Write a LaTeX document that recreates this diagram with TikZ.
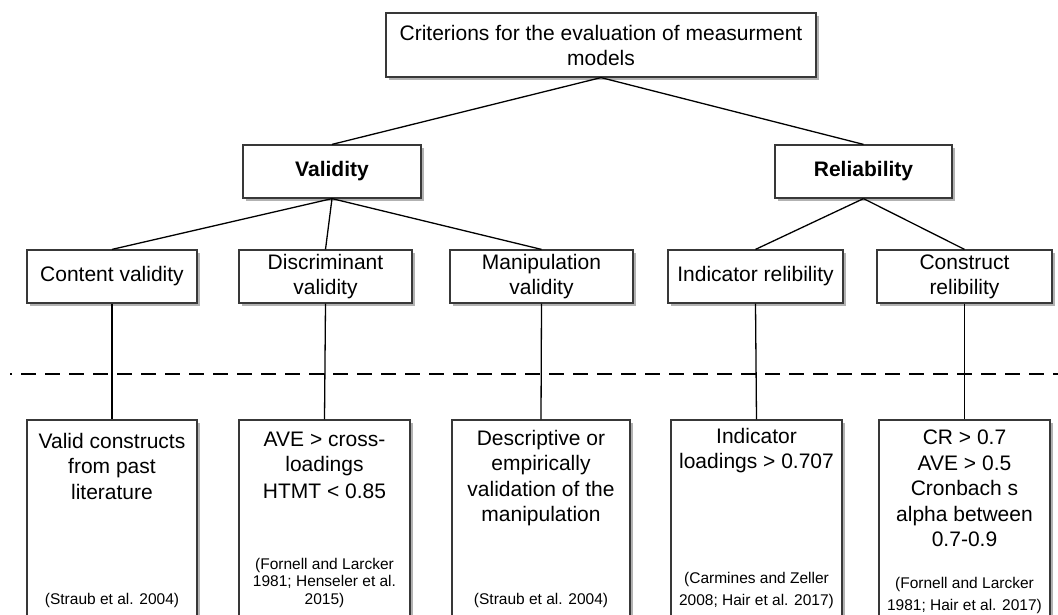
\documentclass[tikz,border=0pt]{standalone}
\usepackage{fontspec}
\setmainfont{Liberation Sans}
\usetikzlibrary{shadows}
\begin{document}
\begin{tikzpicture}[x=1pt,y=-1pt,
  box/.style={draw=black!78, line width=1.2pt, fill=white, inner sep=0pt, align=center,
    drop shadow={shadow xshift=2.5pt, shadow yshift=-2.5pt, opacity=0.3, fill=black}},
  link/.style={draw=black, line width=1.3pt},
  main/.style={font=\fontsize{21}{25}\selectfont},
  strong/.style={font=\fontsize{21}{25}\selectfont\bfseries},
  body/.style={font=\fontsize{21}{25.5}\selectfont, align=center, inner sep=0pt, anchor=north},
  cite/.style={font=\fontsize{15.5}{17.4}\selectfont, align=center, inner sep=0pt, anchor=north}]

\useasboundingbox[fill=white] (0,0) rectangle (1058,614);

% ends of the dashed separator
\coordinate (dashL) at (10,374);
\coordinate (dashR) at (1058,374);

% root
\node[box, main, minimum width=430pt, minimum height=64pt] (root) at (601,45)
  {Criterions for the evaluation of measurment\\models};

% first level
\node[box, strong, minimum width=178pt, minimum height=53pt] (val) at (332,171.5) {Validity};
\node[box, strong, minimum width=177pt, minimum height=53pt] (rel) at (863.5,171.5) {Reliability};

% second level
\node[box, main, minimum width=170pt, minimum height=53pt] (cv) at (112,276.5) {Content validity};
\node[box, main, minimum width=173pt, minimum height=53pt] (dv) at (325.5,276.5) {Discriminant\\validity};
\node[box, main, minimum width=183pt, minimum height=53pt] (mv) at (541.5,276.5) {Manipulation\\validity};
\node[box, main, minimum width=175pt, minimum height=53pt] (ir) at (755.5,276.5) {Indicator relibility};
\node[box, main, minimum width=175pt, minimum height=53pt] (cr) at (964.5,276.5) {Construct\\relibility};

% criteria boxes (run past the lower edge)
\node[box, minimum width=170pt, minimum height=230pt] (bv) at (112,535) {};
\node[box, minimum width=171pt, minimum height=230pt] (bd) at (324.5,535) {};
\node[box, minimum width=178pt, minimum height=230pt] (bm) at (541,535) {};
\node[box, minimum width=171pt, minimum height=230pt] (bi) at (756.5,535) {};
\node[box, minimum width=171pt, minimum height=230pt] (bc) at (964.5,535) {};

% tree links
\draw[link] (root.south) -- (val.north);
\draw[link] (root.south) -- (rel.north);
\draw[link] (val.south) -- (cv.north);
\draw[link] (val.south) -- (dv.north);
\draw[link] (val.south) -- (mv.north);
\draw[link] (rel.south) -- (ir.north);
\draw[link] (rel.south) -- (cr.north);
\draw[link] (cv.south) -- (bv.north);
\draw[link] (dv.south) -- (bd.north);
\draw[link] (mv.south) -- (bm.north);
\draw[link] (ir.south) -- (bi.north);
\draw[link] (cr.south) -- (bc.north);

% separator
\draw[black, line width=1.5pt, dash pattern=on 15pt off 9pt, dash phase=13pt] (dashL) -- (dashR);

% criteria texts
\node[body] (tv) at (112,432.7) {Valid constructs\\from past\\literature};
\node[body] (td) at (324.5,431.4) {AVE > cross-\\loadings\\[1.5pt]HTMT < 0.85};
\node[body] (tm) at (541,429.7) {Descriptive or\\empirically\\validation of the\\manipulation};
\node[body] (ti) at (756.5,428) {Indicator\\loadings > 0.707};
\node[body] (tc) at (964.5,429.7) {CR > 0.7\\AVE > 0.5\\Cronbach s\\alpha between\\0.7-0.9};

% references
\node[cite] (sv) at (112,592.7) {(Straub et al. 2004)};
\node[cite] (sd) at (324.5,558) {(Fornell and Larcker\\1981; Henseler et al.\\2015)};
\node[cite] (sm) at (541,592.7) {(Straub et al. 2004)};
\node[cite, font=\fontsize{15.5}{21.7}\selectfont] (si) at (756.5,572) {(Carmines and Zeller\\2008; Hair et al. 2017)};
\node[cite, font=\fontsize{15.5}{21.7}\selectfont] (sc) at (964.5,577) {(Fornell and Larcker\\1981; Hair et al. 2017)};
\end{tikzpicture}
\end{document}
